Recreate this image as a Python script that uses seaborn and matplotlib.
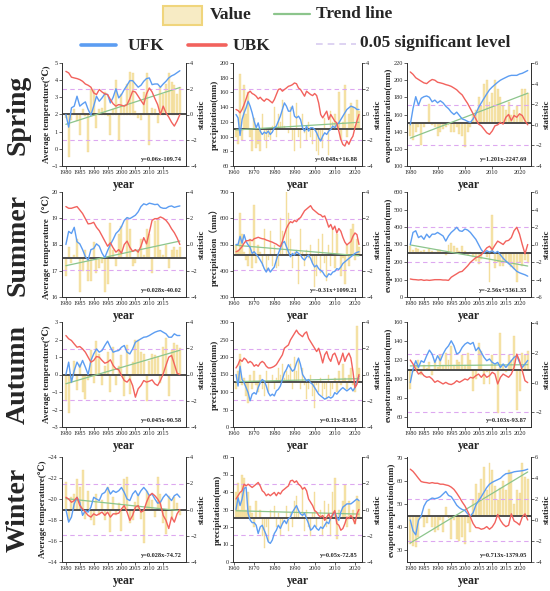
import numpy as np
import matplotlib
matplotlib.use("Agg")
import matplotlib.pyplot as plt
import seaborn as sns
from matplotlib.lines import Line2D
from matplotlib.patches import Rectangle

sns.set_style("ticks")
plt.rcParams['font.family'] = ['Liberation Serif', 'DejaVu Serif', 'Noto Sans CJK SC']

# years of each variable
temp_years = np.arange(1980, 2022)
precip_years = np.arange(1961, 2023)
et_years = np.arange(1980, 2024)

# ---------------- Spring ----------------
spring_temp_value = [1.8, -0.5, 1.7, 2.3, 1.6, 0.8, 2.3, 1.9, -0.2, 3.5, 3.5, 1.2, 2.3, 2.4, 3.3, 1.9, 0.8, 2.3, 4.0, 0.5,
                     3.2, 2.5, 3.8, 4.5, 4.4, 2.2, 1.8, 1.7, 3.3, 4.4, 0.2, 2.4, 2.3, 1.5, 3.6, 3.2, 3.8, 4.4, 3.9, 3.7,
                     3.2, 3.6]
spring_temp_ufk = [0.0, -0.98, 0.52, 0.65, 1.42, 0.65, 0.83, 0.98, 0.39, -0.05, 0.65, 1.42, 1.03, 1.29, 1.6, 1.55, 0.9,
                   1.34, 2.0, 1.29, 1.55, 1.94, 2.27, 2.63, 2.63, 2.37, 2.12, 2.27, 2.58, 2.79, 2.84, 2.32, 2.37, 2.37,
                   2.12, 2.37, 2.58, 2.84, 3.0, 3.1, 3.25, 3.4]
spring_temp_ubk = [3.35, 3.23, 2.90, 2.84, 2.79, 2.71, 2.58, 2.37, 2.27, 2.12, 1.68, 1.55, 1.94, 1.75, 1.60, 1.55, 1.16,
                   0.83, 0.65, 0.77, 0.72, 0.65, 0.77, 1.24, 1.81, 1.75, 1.42, 1.08, 0.77, 1.60, 2.06, 1.75, 1.24, 0.77,
                   0.0, 0.65, 0.13, -0.2, -0.6, -0.9, -0.5, 0.0]

spring_precip_value = [100, 90, 185, 95, 170, 130, 160, 100, 80, 125, 85, 90, 80, 130, 95, 85, 100, 95, 115, 140,
                       100, 130, 120, 150, 115, 110, 105, 140, 95, 80, 145, 100, 85, 130, 105, 95, 120, 100, 90, 110,
                       80, 75, 95, 85, 125, 110, 75, 135, 120, 130, 115, 160, 95, 120, 170, 100, 130, 145, 140, 115,
                       150, 135]
spring_precip_ufk = [0.0, -0.26, -1.63, -0.39, 0.13, 0.52, 1.03, 0.65, 0.13, -0.52, -1.03, -0.65, -1.29, -1.55, -1.37,
                     -1.47, -1.29, -1.55, -1.37, -1.03, -0.90, -0.52, -0.13, 0.39, 0.90, 0.65, 0.26, 0.26, 0.65, -0.13,
                     -0.26, -0.13, -0.39, -1.03, -1.29, -0.90, -1.29, -1.03, -1.03, -1.16, -1.42, -1.81, -2.06, -1.68,
                     -1.42, -1.55, -1.29, -1.16, -0.90, -1.03, -0.77, -0.65, -0.39, -0.13, 0.13, 0.39, 0.52, 0.65,
                     0.59, 0.52, 0.39, 0.39]
spring_precip_ubk = [0.39, 0.31, 0.13, 0.39, 0.77, 1.21, 1.68, 1.81, 1.63, 1.55, 1.42, 1.21, 1.34, 1.16, 1.03, 1.21,
                     1.16, 1.03, 0.90, 1.16, 1.55, 1.94, 2.0, 1.81, 1.94, 2.06, 2.19, 2.24, 2.32, 2.45, 2.39, 2.06,
                     1.94, 1.68, 1.42, 1.81, 1.68, 1.55, 1.47, 1.63, 1.47, 0.90, 0.0, -0.26, 0.0, 0.26, -0.39, 0.0,
                     -0.26, -0.52, -0.65, -1.29, -1.94, -2.32, -2.45, -2.06, -2.32, -1.94, -1.68, -1.03, -0.5, 0.0]

spring_et_value = [135, 130, 140, 145, 125, 145, 150, 172, 148, 145, 135, 140, 143, 145, 148, 140, 140, 145, 137, 135,
                   122, 140, 145, 160, 165, 180, 170, 195, 200, 175, 185, 200, 190, 180, 170, 165, 175, 160, 165, 170,
                   160, 190, 190, 185]
spring_et_ufk = [0.0, 1.57, 2.73, 1.9, 2.57, 2.73, 2.8, 2.67, 2.23, 2.4, 2.13, 2.33, 2.13, 1.8, 1.57, 1.23, 1.0, 1.23,
                 0.9, 0.57, 0.47, 0.33, 0.23, 0.57, 1.07, 1.67, 2.13, 2.57, 3.0, 3.4, 3.67, 3.9, 4.13, 4.33, 4.47, 4.6,
                 4.73, 4.8, 4.8, 4.8, 4.93, 5.0, 5.13, 5.27]
spring_et_ubk = [5.13, 4.9, 4.57, 4.4, 4.23, 4.07, 4.0, 4.23, 4.4, 4.33, 4.13, 4.07, 4.0, 3.9, 3.83, 3.73, 3.57, 3.4,
                 3.13, 2.9, 2.47, 2.07, 1.57, 1.07, 0.57, 0.07, -0.1, -0.43, -0.77, -0.93, -0.6, -0.1, 0.0, 0.23, 0.07,
                 0.73, 1.0, 0.4, 0.9, 0.73, 1.07, 0.9, 0.4, 0.0]

# ---------------- Summer ----------------
summer_temp_value = [16.8, 17.9, 17.3, 17.6, 18.2, 16.2, 17.0, 17.8, 16.6, 16.6, 18.1, 16.9, 17.1, 17.3, 16.2, 16.5,
                     18.8, 17.8, 17.2, 18.4, 18.7, 17.5, 19.0, 18.6, 17.2, 17.3, 17.7, 18.2, 17.6, 18.6, 18.4, 16.9,
                     18.9, 19.0, 17.8, 17.6, 18.0, 17.1, 17.8, 17.9, 17.8, 17.9]
summer_temp_ufk = [0.0, 1.0, 0.84, 1.31, 0.21, 0.05, -0.39, -0.92, -1.18, -0.39, -0.31, 0.05, -0.13, -0.66, -1.0,
                   -0.47, 0.0, 0.39, 0.84, 1.05, 1.36, 1.84, 2.05, 1.97, 2.1, 2.23, 2.49, 2.89, 3.1, 3.02, 3.15, 3.1,
                   3.04, 3.07, 2.83, 2.76, 2.76, 2.89, 2.94, 2.83, 2.89, 2.94]
summer_temp_ubk = [2.89, 2.76, 2.76, 2.83, 2.89, 2.63, 2.36, 1.97, 1.57, 1.6, 1.69, 1.31, 1.05, 0.66, 0.26, -0.13,
                   0.13, -0.26, -0.58, -0.39, -0.66, 0.0, 0.26, -0.21, -0.52, -0.39, -0.58, -0.13, 0.52, 0.05, 0.92,
                   1.84, 1.97, 1.97, 2.1, 2.0, 1.84, 1.57, 1.2, 0.9, 0.5, 0.0]

summer_precip_value = [500, 480, 620, 540, 470, 440, 420, 520, 410, 650, 430, 500, 470, 420, 560, 400, 440, 550, 420,
                       500, 410, 420, 600, 550, 460, 700, 620, 520, 410, 470, 480, 350, 560, 470, 420, 480, 450, 500,
                       430, 340, 380, 520, 390, 540, 430, 360, 500, 420, 560, 410, 540, 460, 380, 450, 350, 500, 420,
                       560, 580, 440, 520, 490]
summer_precip_ufk = [0.0, 0.0, 0.62, 0.1, 0.75, 0.23, -0.03, -0.23, -0.68, -0.55, -0.75, -0.94, -1.19, -1.45, -1.84,
                     -2.1, -1.79, -2.1, -1.9, -1.71, -1.19, -0.68, -0.29, 0.10, 0.23, -0.16, -0.55, -0.94, -0.68,
                     -0.81, -0.55, -0.68, -0.81, -1.06, -1.19, -0.94, -0.81, -1.06, -1.45, -1.71, -1.58, -1.84, -1.97,
                     -2.1, -2.36, -2.49, -2.23, -2.31, -2.1, -2.05, -1.84, -1.9, -1.71, -1.45, -1.32, -1.19, -1.06,
                     -0.94, -0.81, -0.68, -0.6, -0.55]
summer_precip_ubk = [-0.55, -0.49, -0.34, -0.16, 0.10, 0.29, 0.29, 0.36, 0.29, 0.44, 0.49, 0.55, 0.49, 0.44, 0.42,
                     0.34, 0.29, 0.23, 0.18, 0.10, 0.03, -0.08, -0.16, 0.23, 0.75, 1.22, 1.53, 1.74, 1.66, 1.84, 1.74,
                     1.95, 2.05, 2.31, 2.57, 2.7, 2.83, 2.96, 2.7, 2.57, 2.44, 2.31, 2.26, 2.1, 2.18, 1.79, 1.32, 1.53,
                     1.14, 1.40, 0.88, 1.22, 1.01, 0.55, 0.18, -0.03, 0.10, 0.23, 0.62, 0.88, 0.75, 0.0]

summer_et_value = [290, 270, 280, 275, 265, 270, 260, 275, 265, 260, 270, 270, 255, 240, 300, 310, 290, 280, 265, 290,
                   265, 240, 260, 230, 205, 190, 215, 260, 230, 85, 470, 165, 200, 175, 180, 200, 190, 170, 160, 85,
                   200, 180, 210, 195]
summer_et_ufk = [0.0, 1.38, 1.57, 0.79, 0.98, 0.59, 1.18, 0.79, 1.18, 1.18, 1.38, 1.18, 0.98, 0.39, 0.98, 1.38, 1.65,
                 1.97, 1.57, 1.50, 1.77, 1.65, 1.38, 0.98, 0.59, 0.0, -0.59, -0.98, -0.71, -0.87, -0.71, -0.98, -0.79,
                 -1.18, -1.57, -1.89, -2.17, -2.44, -2.76, -3.07, -3.23, -3.35, -3.46, -3.62]
summer_et_ubk = [-3.94, -4.0, -4.02, -4.06, -4.02, -4.1, -4.06, -4.1, -4.06, -4.02, -4.02, -4.02, -4.06, -4.06, -4.1,
                 -3.74, -3.54, -3.35, -3.15, -3.07, -2.76, -2.44, -2.05, -1.77, -1.50, -1.38, -1.18, -0.79, -0.39,
                 -0.2, -0.59, -0.08, 0.39, 0.2, 0.0, 0.39, 0.47, 0.79, 1.57, 1.97, 1.18, 0.0, -1.06, 0.0]

# ---------------- Autumn ----------------
autumn_temp_value = [-1.5, -2.2, -0.5, 0.8, -0.9, 0.6, -1.0, -1.4, -0.3, 1.4, -0.5, 1.9, 1.2, -0.6, 0.5, 1.3, -1.0, 1.6,
                     -0.6, 0.5, 1.1, -1.2, 1.7, -1.1, 0.7, 2.0, 2.0, 1.3, 1.2, -1.5, 0.8, 1.2, 1.1, 1.0, -0.5, 1.6, 2.1,
                     -1.2, 1.4, 1.8, 1.7, 1.5]
autumn_temp_ufk = [0.0, 0.94, -0.58, 0.30, 0.94, 0.56, 1.07, 0.56, 0.0, 1.07, 1.57, 1.95, 1.70, 1.83, 2.21, 2.54, 2.08,
                   1.70, 1.78, 1.83, 2.08, 2.21, 1.70, 1.57, 1.95, 2.46, 2.59, 2.72, 2.84, 2.87, 2.97, 3.10, 3.22, 3.30,
                   3.35, 3.22, 3.10, 2.84, 2.84, 3.10, 2.97, 2.97]
autumn_temp_ubk = [2.97, 2.72, 2.59, 2.33, 2.08, 2.13, 1.95, 1.70, 1.32, 0.94, 1.07, 1.37, 1.32, 1.07, 0.86, 0.94, 1.12,
                   0.69, 0.43, 0.36, -0.08, -0.46, -0.58, -0.33, -0.84, -1.73, -1.09, -0.84, -0.46, -0.58, -0.51, -0.41,
                   -0.71, -0.84, -0.46, 0.05, 0.7, 1.32, 1.45, 0.8, 0.1, 0.0]

autumn_precip_value = [110, 160, 210, 120, 140, 90, 70, 150, 110, 160, 120, 100, 150, 110, 90, 160, 100, 130, 150, 110,
                       140, 170, 150, 180, 140, 160, 150, 180, 110, 200, 160, 190, 110, 170, 120, 80, 110, 150, 90, 55,
                       120, 100, 140, 90, 110, 80, 150, 90, 110, 140, 100, 160, 120, 180, 140, 110, 150, 170, 120, 100,
                       290, 170]
autumn_precip_ufk = [0.0, -0.88, 0.63, -0.38, -0.63, -1.0, -1.38, -2.0, -1.5, -1.38, -1.5, -1.0, -0.63, -0.38, -0.5,
                     -0.88, -1.38, -1.63, -1.5, -1.63, -1.25, -1.13, -0.88, -0.38, 0.13, 0.38, 0.75, 0.5, 0.25, 0.38,
                     0.88, 1.25, 0.75, 0.0, -0.25, -0.5, -0.38, -0.63, -0.75, -1.0, -1.25, -1.5, -1.63, -1.75, -1.88,
                     -1.8, -1.7, -1.8, -1.7, -1.38, -1.5, -1.3, -1.13, -1.0, -1.13, -1.25, -1.13, -1.0, -1.25, -1.0,
                     -0.5, -0.13]
autumn_precip_ubk = [0.5, 0.75, 1.13, 1.0, 1.25, 1.13, 0.88, 1.0, 0.88, 0.63, 0.75, 0.63, 0.88, 1.0, 0.88, 0.63, 0.5,
                     0.5, 0.55, 0.63, 0.75, 1.0, 1.25, 1.5, 2.0, 2.13, 2.25, 2.63, 2.88, 3.13, 3.38, 3.13, 3.0, 2.88,
                     3.13, 3.25, 2.75, 2.5, 2.25, 2.0, 1.75, 2.0, 1.5, 0.88, 1.5, 1.75, 1.25, 1.0, 1.5, 1.63, 1.25,
                     0.75, 1.13, 1.63, 1.0, 1.38, 1.63, 1.25, 0.25, -1.0, -0.75, 0.0]

autumn_et_value = [90, 108, 115, 120, 105, 115, 112, 118, 105, 120, 113, 125, 115, 128, 120, 135, 115, 120, 118, 125,
                   115, 128, 120, 88, 100, 138, 130, 95, 108, 95, 125, 115, 65, 148, 115, 108, 125, 120, 145, 68,
                   88, 128, 125, 130]
autumn_et_ufk = [0.0, 0.9, 1.48, 1.03, 1.48, 1.37, 1.82, 2.2, 1.93, 1.37, 1.82, 1.48, 1.93, 2.27, 2.49, 2.83, 2.49, 1.93,
                 2.04, 2.38, 2.6, 2.72, 2.6, 2.72, 2.16, 2.38, 2.04, 1.71, 1.48, 1.6, 1.37, 1.26, 1.37, 1.03, 1.26, 1.03,
                 1.26, 1.48, 1.71, 1.82, 1.37, 1.03, 1.26, 1.5]
autumn_et_ubk = [1.53, 1.26, 0.9, 0.58, 0.7, 0.47, 0.36, 0.4, 0.25, 0.02, 0.13, 0.02, -0.09, 0.02, -0.09, -0.13, -0.04,
                 0.13, 0.02, 0.13, 0.25, 0.18, 0.36, 0.31, 0.47, 0.58, 0.36, 0.58, 0.36, 0.47, 0.7, 0.58, -0.09, 0.36,
                 0.58, 0.47, 0.36, 0.58, 1.03, 1.93, 1.48, 0.81, 0.13, 0.0]

# ---------------- Winter ----------------
winter_temp_value = [-21.6, -18.0, -20.2, -20.5, -21.9, -21.1, -22.8, -18.1, -20.8, -18.0, -17.5, -20.5, -18.5, -19.9,
                     -18.0, -21.1, -16.9, -20.2, -18.5, -19.6, -17.0, -21.9, -22.1, -17.7, -18.0, -19.7, -20.5, -18.1,
                     -15.8, -20.8, -20.2, -19.9, -18.3, -22.1, -20.5, -17.7, -16.7, -20.3, -18.1, -20.2, -19.6, -18.5]
winter_temp_ufk = [0.0, -0.96, -0.58, 0.43, 0.93, 0.55, -0.45, -0.08, -0.2, 0.18, 0.93, 0.8, 0.68, 1.18, 1.3, 1.68,
                   1.18, 1.43, 1.3, 1.43, 1.68, 1.3, 0.8, 0.68, 1.18, 1.43, 1.05, 1.43, 1.68, 1.43, 1.05, 1.18, 0.8,
                   0.48, 0.55, 0.93, 1.18, 0.93, 0.68, 1.05, 1.18, 0.93]
winter_temp_ubk = [0.93, 0.8, 0.55, 0.68, 0.93, 0.3, 0.05, -0.2, -0.45, -0.58, -0.33, -0.45, -0.33, -0.2, -0.45, -0.2,
                   -0.58, -0.33, -0.33, -0.28, 0.05, 0.3, -0.2, -0.83, -0.45, 0.18, 0.3, -0.2, -0.08, 0.55, 1.05, 1.23,
                   1.05, 0.8, 0.43, -0.45, -0.83, -1.45, -0.58, -0.96, -0.33, 0.0]

winter_precip_value = [40, 45, 30, 50, 48, 30, 40, 32, 28, 20, 35, 25, 30, 15, 8, 20, 12, 30, 25, 32, 20, 28, 15, 22,
                       25, 32, 18, 28, 20, 35, 38, 30, 25, 42, 18, 30, 20, 15, 28, 40, 20, 25, 30, 15, 35, 20, 33, 15,
                       40, 48, 13, 30, 25, 35, 44, 20, 35, 25, 30, 22, 38, 35]
winter_precip_ufk = [0.0, 0.9, 0.3, 0.8, 1.6, 1.7, -0.3, -0.8, -1.0, -1.0, -1.2, -1.83, -1.33, -1.2, -1.58, -1.95,
                     -2.46, -2.58, -2.33, -1.83, -1.58, -1.2, -1.45, -1.08, -0.83, -1.08, -0.7, -0.58, -0.2, 0.05, 0.3,
                     -0.08, -0.33, -0.45, -0.28, -0.7, -1.08, -1.58, -1.45, -1.2, -1.45, -1.58, -1.33, -1.45, -1.2,
                     -0.95, -1.08, -0.58, -0.45, -0.2, -0.58, -0.83, -0.2, 0.18, 0.3, 0.43, 0.43, 0.43, 0.55, 0.68,
                     0.8, 0.68]
winter_precip_ubk = [0.8, 1.05, 1.3, 1.43, 1.93, 1.8, 1.93, 1.8, 1.68, 1.8, 1.93, 2.06, 1.8, 1.43, 1.3, 1.05, 1.18,
                     1.05, 1.18, 1.3, 1.05, 1.3, 1.18, 1.43, 1.55, 1.68, 1.8, 2.18, 2.23, 2.06, 2.18, 1.93, 1.8, 1.55,
                     1.68, 1.43, 0.8, 0.55, 0.3, -0.08, -0.2, -0.45, -0.58, -0.45, -0.83, -0.58, -0.33, -0.7, -0.33,
                     -0.08, -1.08, -1.2, -1.58, -1.45, -1.08, -0.58, -0.7, -0.45, -0.7, -1.08, -0.33, 0.0]

winter_et_value = [33, 32, 31.5, 36, 44, 40, 42, 48, 40, 38, 39, 43, 38, 49, 44, 35, 43, 35, 34, 36, 33, 42, 38, 52,
                   59, 55, 61, 66, 56, 68, 65, 58, 52, 57, 60, 56, 65, 64, 50, 56, 55, 68, 62, 61]
winter_et_ufk = [0.0, -1.03, -1.41, -0.03, 0.38, 1.31, 1.78, 1.94, 2.09, 2.03, 2.09, 2.22, 2.47, 2.72, 2.34, 2.22, 1.84,
                 1.41, 1.16, 1.0, 0.91, 0.59, 0.38, 0.69, 1.41, 1.84, 2.22, 2.66, 3.09, 3.41, 3.59, 3.72, 3.84, 3.97,
                 4.22, 4.41, 4.44, 4.5, 4.59, 4.63, 4.66, 4.69, 4.75, 4.84]
winter_et_ubk = [4.84, 4.63, 4.31, 3.97, 3.66, 3.59, 3.56, 3.5, 3.56, 3.5, 3.5, 3.41, 3.41, 3.34, 3.28, 3.13, 2.91, 2.56,
                 2.16, 1.72, 1.34, 0.84, 0.28, -0.34, -0.72, -0.75, -0.88, -0.81, -0.63, -0.88, -0.66, -0.25, 0.53,
                 -0.03, -0.41, -0.63, -0.5, 0.59, -0.09, -0.25, -0.47, 0.28, 0.59, 0.0]

seasons = ["Spring", "Summer", "Autumn", "Winter"]
equations = [["y=0.06x-109.74", "y=0.048x+16.88", "y=1.201x-2247.69"],
             ["y=0.028x-40.02", "y=-0.31x+1099.21", "y=-2.56x+5361.35"],
             ["y=0.045x-90.58", "y=0.11x-83.65", "y=0.103x-93.87"],
             ["y=0.028x-74.72", "y=0.05x-72.85", "y=0.713x-1379.05"]]

C_BAR = "#F3DC90"
C_UFK = "#5C9DF2"
C_UBK = "#F2625D"
C_TREND = "#8CC58C"
C_SIG = "#DDA8F0"

# x settings: years, xlim, xticks
temp_x = (temp_years, (1978.6, 2023.2), np.arange(1980, 2016, 5))
precip_x = (precip_years, (1959.5, 2023.5), np.arange(1960, 2021, 10))
et_x5 = (et_years, (1978.8, 2024.2), np.arange(1980, 2021, 5))
et_x10 = (et_years, (1978.8, 2024.2), np.arange(1980, 2021, 10))

panels = [
    [(temp_x, spring_temp_value, spring_temp_ufk, spring_temp_ubk, 2, (-1, 5), np.arange(-1, 6, 1),
      (-4, 4), [-4, -2, 0, 2, 4], "Average temperature(℃)"),
     (precip_x, spring_precip_value, spring_precip_ufk, spring_precip_ubk, 110, (60, 200), np.arange(60, 201, 20),
      (-4, 4), [-4, -2, 0, 2, 4], "precipitation(mm)"),
     (et_x10, spring_et_value, spring_et_ufk, spring_et_ubk, 150, (100, 220), np.arange(100, 221, 20),
      (-4, 6), [-4, -2, 0, 2, 4, 6], "evapotranspiration(mm)")],
    [(temp_x, summer_temp_value, summer_temp_ufk, summer_temp_ubk, 17.5, (16, 20), np.arange(16, 21, 1),
      (-4, 4), [-4, -2, 0, 2, 4], "Average temperature（℃）"),
     (precip_x, summer_precip_value, summer_precip_ufk, summer_precip_ubk, 460, (300, 700), np.arange(300, 701, 100),
      (-4, 4), [-4, -2, 0, 2, 4], "precipitation（mm）"),
     (et_x5, summer_et_value, summer_et_ufk, summer_et_ubk, 250, (0, 600), np.arange(0, 601, 100),
      (-6, 6), [-6, -4, -2, 0, 2, 4, 6], "evapotranspiration(mm)")],
    [(temp_x, autumn_temp_value, autumn_temp_ufk, autumn_temp_ubk, 0, (-3, 3), np.arange(-3, 4, 1),
      (-4, 4), [-4, -2, 0, 2, 4], "Average temperature(℃)"),
     (precip_x, autumn_precip_value, autumn_precip_ufk, autumn_precip_ubk, 130, (0, 300), np.arange(0, 301, 50),
      (-4, 4), [-4, -2, 0, 2, 4], "precipitation(mm)"),
     (et_x5, autumn_et_value, autumn_et_ufk, autumn_et_ubk, 110, (50, 160), np.arange(60, 161, 20),
      (-3, 4.1), [-2, 0, 2, 4], "evapotranspiration(mm)")],
    [(temp_x, winter_temp_value, winter_temp_ufk, winter_temp_ubk, -19, (-14, -24), np.arange(-24, -13, 2),
      (-4, 4), [-4, -2, 0, 2, 4], "Average temperature(℃)"),
     (precip_x, winter_precip_value, winter_precip_ufk, winter_precip_ubk, 25, (0, 60), np.arange(0, 61, 10),
      (-4, 4), [-4, -2, 0, 2, 4], "precipitation(mm)"),
     (et_x5, winter_et_value, winter_et_ufk, winter_et_ubk, 45, (25, 70.5), np.arange(30, 71, 10),
      (-4, 6), [-4, -2, 0, 2, 4, 6], "evapotranspiration(mm)")],
]

W, H = 550, 591
fig = plt.figure(figsize=(W / 100, H / 100), dpi=100)

cols_px = [(62, 186), (233, 362), (407, 531)]
rows_px = [(63, 166), (192, 297), (322, 427), (457, 562)]


def draw_panel(ax, cfg, eq):
    (years, xlim, xticks), value, ufk, ubk, base, ylim, yticks, sylim, syticks, ylabel = cfg
    value = np.array(value, dtype=float)
    ax.bar(years, value - base, bottom=base, width=0.72, color=C_BAR, alpha=0.75,
           edgecolor="#EFD27C", linewidth=0.3, zorder=1)
    ax.axhline(base, color="#4d4d4d", lw=1.4, zorder=2)
    sns.regplot(x=years, y=value, ax=ax, scatter=False, ci=None, color=C_TREND,
                line_kws={"lw": 0.9, "zorder": 3})
    ax.set_xlim(*xlim)
    ax.set_ylim(*ylim)
    ax.set_xticks(xticks)
    ax.set_yticks(yticks)
    ax.set_ylabel(ylabel, fontsize=6.5, fontweight="bold", labelpad=0.5)
    ax.set_xlabel("year", fontsize=8.5, fontweight="bold", labelpad=3)
    ax.text(0.97, 0.04, eq, transform=ax.transAxes, ha="right", va="bottom",
            fontsize=4.6, fontweight="bold", zorder=5)

    ax2 = ax.twinx()
    ax2.axhline(1.96, color=C_SIG, lw=0.8, ls=(0, (4, 3)))
    ax2.axhline(-1.96, color=C_SIG, lw=0.8, ls=(0, (4, 3)))
    sns.lineplot(x=years, y=ufk, ax=ax2, color=C_UFK, lw=1.0)
    sns.lineplot(x=years, y=ubk, ax=ax2, color=C_UBK, lw=1.0)
    ax2.set_ylim(*sylim)
    ax2.set_yticks(syticks)
    ax2.set_ylabel("statistic", fontsize=6.5, fontweight="bold", labelpad=0.5)

    for a in (ax, ax2):
        a.tick_params(labelsize=4.5, length=2, width=0.5, pad=1)
        for s in a.spines.values():
            s.set_linewidth(0.7)
            s.set_color("#333333")
        a.spines["top"].set_visible(False)


for r in range(4):
    for c in range(3):
        x0, x1 = cols_px[c]
        y0, y1 = rows_px[r]
        ax = fig.add_axes([x0 / W, 1 - y1 / H, (x1 - x0) / W, (y1 - y0) / H])
        draw_panel(ax, panels[r][c], equations[r][c])
    yc = (rows_px[r][0] + rows_px[r][1]) / 2
    fig.text(18 / W, 1 - yc / H, seasons[r], rotation=90, ha="center", va="center",
             fontsize=20, fontweight="bold")


# legend drawn on the figure
def fy(py):
    return 1 - py / H


fig.add_artist(Rectangle((163 / W, fy(25)), 39 / W, 19 / H, transform=fig.transFigure,
                         facecolor="#F7EBC4", edgecolor="#F0D57C", lw=1.5))
fig.text(210 / W, fy(15), "Value", fontsize=12.5, fontweight="bold", va="center")
fig.add_artist(Line2D([274 / W, 310 / W], [fy(14), fy(14)], color=C_TREND, lw=1.6))
fig.text(316 / W, fy(14), "Trend line", fontsize=12.5, fontweight="bold", va="center")

fig.add_artist(Line2D([81 / W, 116 / W], [fy(45), fy(45)], color=C_UFK, lw=2.6))
fig.text(128 / W, fy(46), "UFK", fontsize=12.5, fontweight="bold", va="center")
fig.add_artist(Line2D([188 / W, 226 / W], [fy(45), fy(45)], color=C_UBK, lw=2.6))
fig.text(233 / W, fy(46), "UBK", fontsize=12.5, fontweight="bold", va="center")
fig.add_artist(Line2D([316 / W, 356 / W], [fy(44), fy(44)], color="#D8CCF0", lw=1.2, ls=(0, (4, 3))))
fig.text(360 / W, fy(43), "0.05 significant level", fontsize=12.5, fontweight="bold", va="center")

fig.savefig("out.png", dpi=100)
